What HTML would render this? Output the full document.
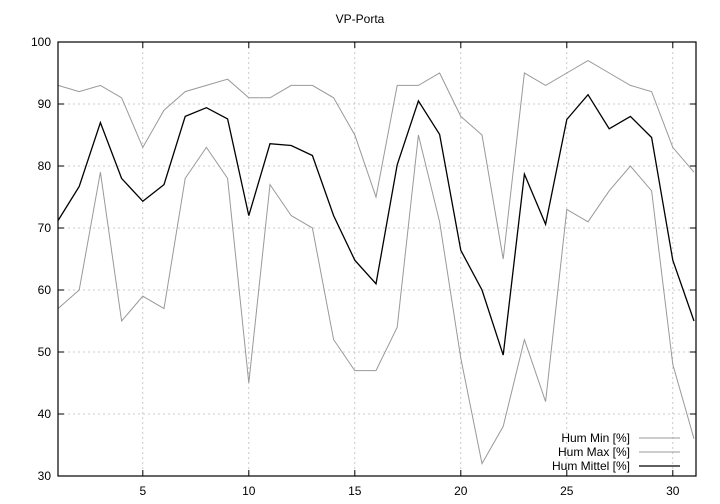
<!DOCTYPE html>
<html><head><meta charset="utf-8"><style>
body{margin:0;background:#fff}
svg{display:block;font-family:"Liberation Sans",sans-serif}
</style></head><body>
<svg id="s" width="720" height="504" xmlns="http://www.w3.org/2000/svg"></svg>
<script>
const s=document.getElementById('s');
const X=d=>58+(d-1)*21.2, Y=v=>42+(100-v)*6.2;
let h='<rect width="720" height="504" fill="#fff"/>';
h+='<text x="360" y="23" font-size="12" text-anchor="middle">VP-Porta</text>';
for(let v=30;v<=100;v+=10){const y=Y(v);
 if(v>30&&v<100)h+=`<line x1="58" x2="696" y1="${y}" y2="${y}" stroke="#bbb" stroke-dasharray="2,3" stroke-width="0.8"/>`;
 h+=`<line x1="58" x2="64" y1="${y}" y2="${y}" stroke="#000"/><line x1="690" x2="696" y1="${y}" y2="${y}" stroke="#000"/>`;
 h+=`<text x="51" y="${y+4}" font-size="12" text-anchor="end">${v}</text>`;}
for(let d=5;d<=30;d+=5){const x=X(d);
 h+=`<line x1="${x}" x2="${x}" y1="42" y2="476" stroke="#bbb" stroke-dasharray="2,3" stroke-width="0.8"/>`;
 h+=`<line x1="${x}" x2="${x}" y1="476" y2="470" stroke="#000"/><line x1="${x}" x2="${x}" y1="42" y2="48" stroke="#000"/>`;
 h+=`<text x="${x}" y="495" font-size="12" text-anchor="middle">${d}</text>`;}
const mx=[93,92,93,91,83,89,92,93,94,91,91,93,93,91,85,75,93,93,95,88,85,65,95,93,95,97,95,93,92,83,79];
const mn=[57,60,79,55,59,57,78,83,78,45,77,72,70,52,47,47,54,85,71,49,32,38,52,42,73,71,76,80,76,48,36];
const me=[71.2,76.7,87,78,74.3,77,88,89.4,87.6,72,83.6,83.3,81.7,72,64.8,61,80.2,90.5,85.1,66.4,60,49.5,78.7,70.6,87.5,91.5,86,88,84.6,64.8,55];
const pl=(a,c,w)=>`<polyline fill="none" stroke="${c}" stroke-width="${w}" points="${a.map((v,i)=>X(i+1).toFixed(1)+','+Y(v).toFixed(1)).join(' ')}"/>`;
h+=pl(mn,'#999',1)+pl(mx,'#999',1)+pl(me,'#000',1.3);
h+='<rect x="58" y="42" width="638" height="434" fill="none" stroke="#000" stroke-width="1.2"/>';
const lg=[['Hum Min [%]','#999',1,438],['Hum Max [%]','#999',1,452],['Hum Mittel [%]','#000',1.3,466]];
for(const [t,c,w,y] of lg){h+=`<text x="630" y="${y+4}" font-size="12" text-anchor="end">${t}</text><line x1="639" x2="680" y1="${y}" y2="${y}" stroke="${c}" stroke-width="${w}"/>`;}
s.innerHTML=h;
</script>
</body></html>
